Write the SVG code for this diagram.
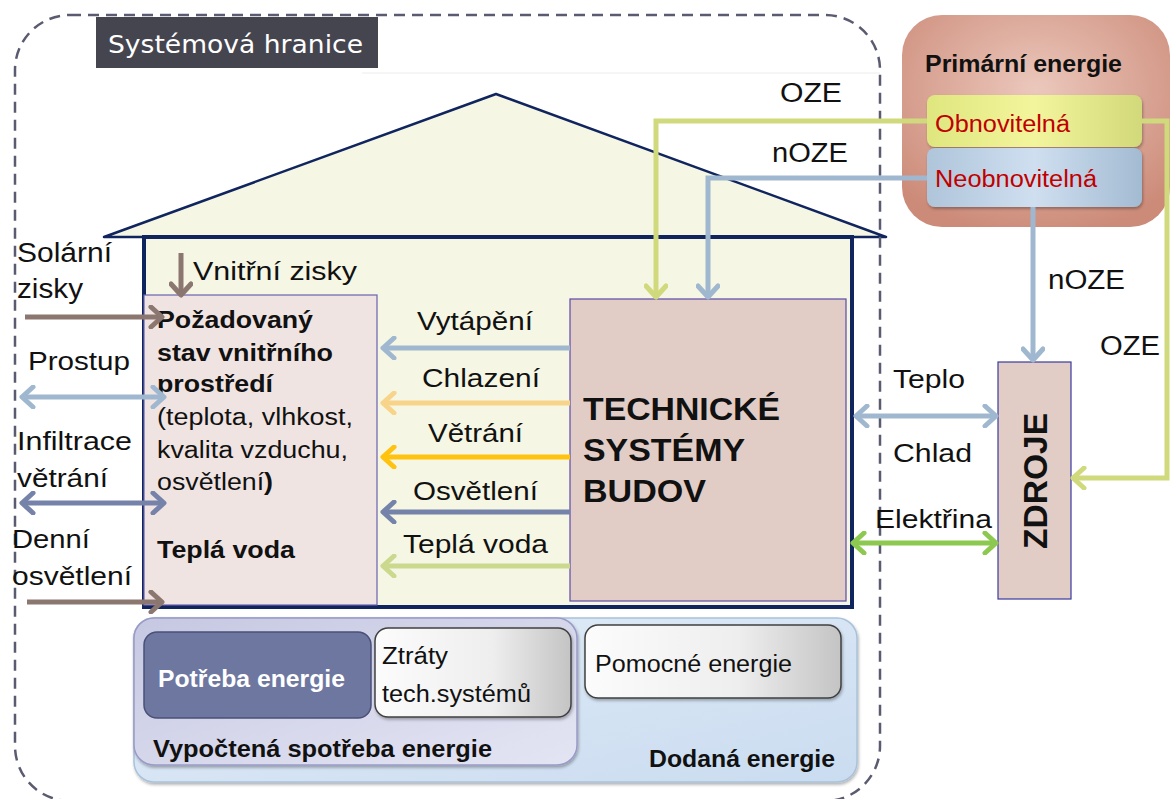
<svg xmlns="http://www.w3.org/2000/svg" width="1172" height="799" viewBox="0 0 1172 799">
<defs>
<style>
text{font-family:"Liberation Sans",Arial,sans-serif;fill:#111}
.r{font-size:26px}
.b{font-weight:bold}
.s22{font-size:22px}
.s23{font-size:23px}
.red{fill:#c00000}
.ln{fill:none;stroke-width:5}
</style>
<radialGradient id="gPrim" cx="0.5" cy="0.35" r="0.7">
<stop offset="0" stop-color="#ebc8bc"/><stop offset="1" stop-color="#cc8a78"/>
</radialGradient>
<linearGradient id="gObn" x1="0" y1="0" x2="1" y2="0">
<stop offset="0" stop-color="#dfe67e"/><stop offset="0.5" stop-color="#f3f59c"/><stop offset="1" stop-color="#d2d97a"/>
</linearGradient>
<linearGradient id="gNeo" x1="0" y1="0" x2="1" y2="0">
<stop offset="0" stop-color="#afc5da"/><stop offset="0.5" stop-color="#cfdff0"/><stop offset="1" stop-color="#a3bbd2"/>
</linearGradient>
<linearGradient id="gDod" x1="0" y1="0" x2="1" y2="1">
<stop offset="0" stop-color="#e3edf8"/><stop offset="1" stop-color="#cadcf0"/>
</linearGradient>
<linearGradient id="gVyp" x1="0" y1="0" x2="1" y2="1">
<stop offset="0" stop-color="#c6c8e2"/><stop offset="1" stop-color="#e4e5f3"/>
</linearGradient>
<linearGradient id="gGray" x1="0" y1="0" x2="1" y2="0">
<stop offset="0" stop-color="#fcfcfc"/><stop offset="0.6" stop-color="#eeeeee"/><stop offset="1" stop-color="#c4c4c4"/>
</linearGradient>
<filter id="sh" x="-10%" y="-10%" width="125%" height="130%">
<feDropShadow dx="1" dy="2" stdDeviation="1.5" flood-color="#000" flood-opacity="0.3"/>
</filter>
<marker id="mBlue" viewBox="-16 -12 20 24" markerWidth="20" markerHeight="24" refX="0" refY="0" orient="auto-start-reverse" markerUnits="userSpaceOnUse"><path d="M-11,-10 L0,0 L-11,10" fill="none" stroke="#9fb8d0" stroke-width="5" stroke-linecap="round" stroke-linejoin="round"/></marker>
<marker id="mOrange" viewBox="-16 -12 20 24" markerWidth="20" markerHeight="24" refX="0" refY="0" orient="auto-start-reverse" markerUnits="userSpaceOnUse"><path d="M-11,-10 L0,0 L-11,10" fill="none" stroke="#f8d48a" stroke-width="5" stroke-linecap="round" stroke-linejoin="round"/></marker>
<marker id="mGold" viewBox="-16 -12 20 24" markerWidth="20" markerHeight="24" refX="0" refY="0" orient="auto-start-reverse" markerUnits="userSpaceOnUse"><path d="M-11,-10 L0,0 L-11,10" fill="none" stroke="#ffc20e" stroke-width="5" stroke-linecap="round" stroke-linejoin="round"/></marker>
<marker id="mSlate" viewBox="-16 -12 20 24" markerWidth="20" markerHeight="24" refX="0" refY="0" orient="auto-start-reverse" markerUnits="userSpaceOnUse"><path d="M-11,-10 L0,0 L-11,10" fill="none" stroke="#7582aa" stroke-width="5" stroke-linecap="round" stroke-linejoin="round"/></marker>
<marker id="mLGreen" viewBox="-16 -12 20 24" markerWidth="20" markerHeight="24" refX="0" refY="0" orient="auto-start-reverse" markerUnits="userSpaceOnUse"><path d="M-11,-10 L0,0 L-11,10" fill="none" stroke="#cad98e" stroke-width="5" stroke-linecap="round" stroke-linejoin="round"/></marker>
<marker id="mOze" viewBox="-16 -12 20 24" markerWidth="20" markerHeight="24" refX="0" refY="0" orient="auto-start-reverse" markerUnits="userSpaceOnUse"><path d="M-11,-10 L0,0 L-11,10" fill="none" stroke="#d0da7c" stroke-width="5" stroke-linecap="round" stroke-linejoin="round"/></marker>
<marker id="mGreen" viewBox="-16 -12 20 24" markerWidth="20" markerHeight="24" refX="0" refY="0" orient="auto-start-reverse" markerUnits="userSpaceOnUse"><path d="M-11,-10 L0,0 L-11,10" fill="none" stroke="#8dc850" stroke-width="5" stroke-linecap="round" stroke-linejoin="round"/></marker>
<marker id="mBrown" viewBox="-16 -12 20 24" markerWidth="20" markerHeight="24" refX="0" refY="0" orient="auto-start-reverse" markerUnits="userSpaceOnUse"><path d="M-11,-10 L0,0 L-11,10" fill="none" stroke="#8c7670" stroke-width="5" stroke-linecap="round" stroke-linejoin="round"/></marker>
</defs>

<rect width="1172" height="799" fill="#ffffff"/>
<line x1="362" y1="73" x2="880" y2="73" stroke="#ececec" stroke-width="1"/>

<g id="house">
<polygon points="104,237 496,94 886,237" fill="#f5f6e3" stroke="#10245e" stroke-width="2.5" stroke-linejoin="round"/>
<rect x="144" y="237" width="708" height="370" fill="#f5f6e3" stroke="#10245e" stroke-width="4"/>
</g>

<g id="boundary">
<rect x="15" y="15" width="865" height="786" rx="55" fill="none" stroke="#5a5b70" stroke-width="2.5" stroke-dasharray="11 7"/>
<rect x="96" y="17" width="282" height="51" fill="#45454f"/>
<text x="108" y="53" style="font-family:'DejaVu Sans',Verdana,sans-serif;font-size:25px;fill:#ffffff" textLength="255" lengthAdjust="spacingAndGlyphs">Systémová hranice</text>
</g>

<g id="primary-energy">
<rect x="902" y="15" width="268" height="212" rx="40" fill="url(#gPrim)"/>
<text class="b" x="925" y="72" style="font-size:23px" textLength="197" lengthAdjust="spacingAndGlyphs">Primární energie</text>
</g>
<g id="renewable">
<rect x="927" y="95" width="215" height="52" rx="8" fill="url(#gObn)" filter="url(#sh)"/>
<text class="s23 red" x="935" y="132" textLength="135" lengthAdjust="spacingAndGlyphs">Obnovitelná</text>
</g>
<g id="nonrenewable">
<rect x="927" y="148" width="215" height="59" rx="8" fill="url(#gNeo)" filter="url(#sh)"/>
<text class="s23 red" x="935" y="187" textLength="162" lengthAdjust="spacingAndGlyphs">Neobnovitelná</text>
</g>

<g id="required-state">
<rect x="144" y="295" width="233" height="310" fill="#f0e4e2" stroke="#6a62b0" stroke-width="1.2"/>
<text class="s23 b" x="157" y="328" textLength="156" lengthAdjust="spacingAndGlyphs">Požadovaný</text>
<text class="s23 b" x="157" y="361" textLength="176" lengthAdjust="spacingAndGlyphs">stav vnitřního</text>
<text class="s23 b" x="157" y="392" textLength="116" lengthAdjust="spacingAndGlyphs">prostředí</text>
<text class="s23" x="157" y="425" textLength="196" lengthAdjust="spacingAndGlyphs">(teplota, vlhkost,</text>
<text class="s23" x="157" y="458" textLength="191" lengthAdjust="spacingAndGlyphs">kvalita vzduchu,</text>
<text class="s23" x="157" y="490" textLength="116" lengthAdjust="spacingAndGlyphs">osvětlení<tspan class="b">)</tspan></text>
<text class="s23 b" x="157" y="558" textLength="138" lengthAdjust="spacingAndGlyphs">Teplá voda</text>
</g>

<g id="technical-systems">
<rect x="570" y="299" width="276" height="302" fill="#e2cdc6" stroke="#5a4aa8" stroke-width="1.2"/>
<text class="b" x="583" y="420" style="font-size:32px" textLength="197" lengthAdjust="spacingAndGlyphs">TECHNICKÉ</text>
<text class="b" x="583" y="461" style="font-size:32px" textLength="162" lengthAdjust="spacingAndGlyphs">SYSTÉMY</text>
<text class="b" x="583" y="502" style="font-size:32px" textLength="123" lengthAdjust="spacingAndGlyphs">BUDOV</text>
</g>

<g id="sources">
<rect x="998" y="362" width="73" height="237" fill="#e2cdc6" stroke="#3a3aa0" stroke-width="1.2"/>
<text class="b" transform="translate(1047,481) rotate(-90)" text-anchor="middle" style="font-size:33px" textLength="136" lengthAdjust="spacingAndGlyphs">ZDROJE</text>
</g>

<g id="delivered-energy">
<rect x="134" y="618" width="723" height="164" rx="20" fill="url(#gDod)" stroke="#a9c2da" stroke-width="1.5" filter="url(#sh)"/>
<text class="s23 b" x="649" y="767" textLength="186" lengthAdjust="spacingAndGlyphs">Dodaná energie</text>
</g>
<g id="calculated-consumption">
<rect x="134" y="618" width="443" height="147" rx="20" fill="url(#gVyp)" stroke="#9a9ac6" stroke-width="1.5" filter="url(#sh)"/>
<text class="s23 b" x="153" y="757" textLength="339" lengthAdjust="spacingAndGlyphs">Vypočtená spotřeba energie</text>
</g>
<g id="energy-need">
<rect x="144" y="632" width="227" height="86" rx="13" fill="#6e77a0" stroke="#4a5078" stroke-width="1.5"/>
<text class="b" x="158" y="687" style="font-size:24px;fill:#ffffff" textLength="187" lengthAdjust="spacingAndGlyphs">Potřeba energie</text>
</g>
<g id="system-losses">
<rect x="375" y="628" width="196" height="89" rx="13" fill="url(#gGray)" stroke="#404040" stroke-width="1.5" filter="url(#sh)"/>
<text class="s23" x="382" y="664" textLength="66" lengthAdjust="spacingAndGlyphs">Ztráty</text>
<text class="s23" x="382" y="702" textLength="149" lengthAdjust="spacingAndGlyphs">tech.systémů</text>
</g>
<g id="auxiliary-energy">
<rect x="585" y="625" width="256" height="73" rx="13" fill="url(#gGray)" stroke="#404040" stroke-width="1.5" filter="url(#sh)"/>
<text class="s23" x="595" y="672" textLength="197" lengthAdjust="spacingAndGlyphs">Pomocné energie</text>
</g>

<g id="connectors">
<polyline class="ln" points="927,121 656,121 656,297" stroke="#d0da7c" marker-end="url(#mOze)"/>
<polyline class="ln" points="927,178 708,178 708,297" stroke="#9fb8d0" marker-end="url(#mBlue)"/>
<line class="ln" x1="1033" y1="207" x2="1033" y2="360" stroke="#9fb8d0" marker-end="url(#mBlue)"/>
<polyline class="ln" points="1142,121 1167,121 1167,478 1073,478" stroke="#d0da7c" marker-end="url(#mOze)"/>
<line class="ln" x1="570" y1="348" x2="383" y2="348" stroke="#9fb8d0" marker-end="url(#mBlue)"/>
<line class="ln" x1="570" y1="403" x2="383" y2="403" stroke="#f8d48a" marker-end="url(#mOrange)"/>
<line class="ln" x1="570" y1="457" x2="383" y2="457" stroke="#ffc20e" marker-end="url(#mGold)"/>
<line class="ln" x1="570" y1="512" x2="383" y2="512" stroke="#7582aa" marker-end="url(#mSlate)"/>
<line class="ln" x1="570" y1="566" x2="383" y2="566" stroke="#cad98e" marker-end="url(#mLGreen)"/>
<line class="ln" x1="856" y1="416" x2="996" y2="416" stroke="#9fb8d0" marker-start="url(#mBlue)" marker-end="url(#mBlue)"/>
<line class="ln" x1="853" y1="543" x2="996" y2="543" stroke="#8dc850" marker-start="url(#mGreen)" marker-end="url(#mGreen)"/>
<line class="ln" x1="25" y1="317" x2="162" y2="317" stroke="#8c7670" marker-end="url(#mBrown)"/>
<line class="ln" x1="22" y1="397" x2="164" y2="397" stroke="#9fb8d0" marker-start="url(#mBlue)" marker-end="url(#mBlue)"/>
<line class="ln" x1="22" y1="503" x2="164" y2="503" stroke="#7582aa" marker-start="url(#mSlate)" marker-end="url(#mSlate)"/>
<line class="ln" x1="27" y1="602" x2="162" y2="602" stroke="#8c7670" marker-end="url(#mBrown)"/>
<line class="ln" x1="181" y1="253" x2="181" y2="295" stroke="#8c7670" marker-end="url(#mBrown)"/>
</g>

<g id="connector-labels">
<text class="r" x="780" y="102" style="font-size:27px" textLength="62" lengthAdjust="spacingAndGlyphs">OZE</text>
<text class="r" x="772" y="162" style="font-size:27px" textLength="76" lengthAdjust="spacingAndGlyphs">nOZE</text>
<text class="r" x="1048" y="289" style="font-size:27px" textLength="77" lengthAdjust="spacingAndGlyphs">nOZE</text>
<text class="r" x="1100" y="355" style="font-size:27px" textLength="60" lengthAdjust="spacingAndGlyphs">OZE</text>
<text class="r" x="893" y="388" textLength="72" lengthAdjust="spacingAndGlyphs">Teplo</text>
<text class="r" x="893" y="462" textLength="79" lengthAdjust="spacingAndGlyphs">Chlad</text>
<text class="r" x="875" y="528" textLength="117" lengthAdjust="spacingAndGlyphs">Elektřina</text>
<text class="r" x="417" y="330" textLength="116" lengthAdjust="spacingAndGlyphs">Vytápění</text>
<text class="r" x="422" y="387" textLength="118" lengthAdjust="spacingAndGlyphs">Chlazení</text>
<text class="r" x="428" y="442" textLength="95" lengthAdjust="spacingAndGlyphs">Větrání</text>
<text class="r" x="413" y="500" textLength="125" lengthAdjust="spacingAndGlyphs">Osvětlení</text>
<text class="r" x="403" y="553" textLength="145" lengthAdjust="spacingAndGlyphs">Teplá voda</text>
<text class="r" x="193" y="280" textLength="164" lengthAdjust="spacingAndGlyphs">Vnitřní zisky</text>
<text class="r" x="17" y="262" style="font-size:27px" textLength="95" lengthAdjust="spacingAndGlyphs">Solární</text>
<text class="r" x="17" y="298" style="font-size:27px" textLength="66" lengthAdjust="spacingAndGlyphs">zisky</text>
<text class="r" x="28" y="370" textLength="102" lengthAdjust="spacingAndGlyphs">Prostup</text>
<text class="r" x="17" y="450" textLength="115" lengthAdjust="spacingAndGlyphs">Infiltrace</text>
<text class="r" x="17" y="487" textLength="91" lengthAdjust="spacingAndGlyphs">větrání</text>
<text class="r" x="12" y="548" textLength="78" lengthAdjust="spacingAndGlyphs">Denní</text>
<text class="r" x="12" y="585" textLength="120" lengthAdjust="spacingAndGlyphs">osvětlení</text>
</g>
</svg>
